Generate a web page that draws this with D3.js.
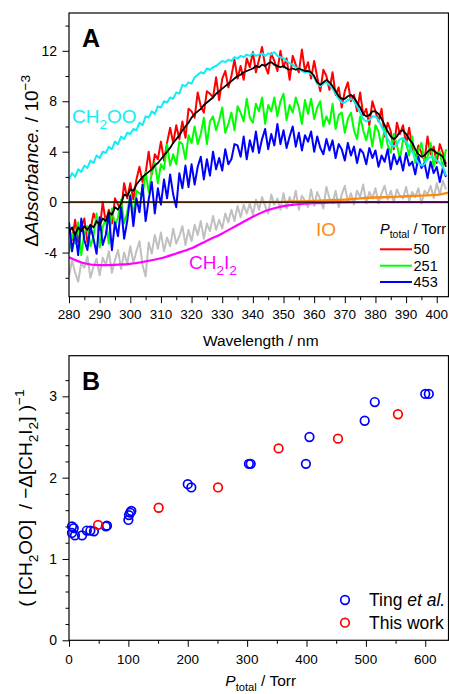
<!DOCTYPE html>
<html>
<head>
<meta charset="utf-8">
<script src="https://cdn.jsdelivr.net/npm/d3@7"></script>
<style>
  html, body { margin: 0; padding: 0; background: #fff; }
  svg { display: block; font-family: "Liberation Sans", Arial, sans-serif; }
  text { white-space: pre; }
</style>
</head>
<body>
<svg id="chart" width="449" height="694"></svg>
<script>
// ---------- Panel A: transient spectra (ΔAbsorbance / 1e-3), 1 nm grid from 280 nm ----------
const wlStart = 280;

// P_total = 50 Torr
const red50 = [
  -2.0, -3.0, -1.4, -3.2, -2.0, -1.3, -3.2, -2.2, -0.9, -1.5,
  -2.2, 0.0, -1.6, -0.6, -1.7, 0.3, -0.2, -0.7, 1.5, 0.3,
  1.5, 0.2, 1.8, 2.8, 1.6, 2.3, 4.0, 2.2, 3.8, 3.4,
  4.8, 3.3, 4.7, 5.9, 4.7, 6.1, 5.0, 6.4, 5.1, 7.4,
  7.2, 6.7, 8.7, 7.6, 7.1, 8.8, 8.6, 8.3, 9.9, 8.1,
  9.8, 10.4, 9.1, 10.0, 11.3, 9.8, 10.8, 9.7, 11.4, 10.7,
  11.9, 10.3, 11.3, 12.3, 10.8, 10.2, 11.8, 11.2, 10.4, 12.0,
  10.7, 11.4, 9.7, 11.6, 10.9, 10.3, 12.1, 10.4, 11.1, 9.8,
  11.2, 9.9, 8.8, 10.5, 10.0, 8.9, 10.3, 8.5, 9.1, 7.5,
  8.8, 9.5, 8.0, 8.5, 7.2, 8.7, 6.9, 7.4, 6.1, 8.0,
  7.2, 6.4, 7.4, 5.2, 6.3, 5.6, 4.2, 6.3, 5.4, 6.1,
  4.6, 5.9, 4.3, 3.4, 4.5, 3.9, 3.3, 5.2, 3.8, 4.4,
  3.1, 4.6, 3.9, 3.0
];

// P_total = 251 Torr
const green251 = [
  -4.0, -2.5, -3.3, -1.6, -4.2, -2.5, -1.9, -3.5, -2.7, -0.9,
  -3.6, -2.0, -1.3, -3.3, -0.5, -1.9, -1.2, 0.2, -1.7, -0.8,
  0.6, -1.1, 0.9, 0.7, 0.5, 2.4, 0.8, 2.3, 3.1, 1.5,
  3.0, 2.6, 4.6, 2.9, 3.8, 3.0, 4.8, 4.6, 3.4, 5.3,
  4.7, 6.0, 4.6, 5.4, 6.7, 4.6, 6.4, 6.8, 5.7, 6.5,
  7.5, 5.5, 6.2, 7.1, 5.7, 7.6, 7.1, 6.4, 8.2, 6.7,
  6.3, 7.8, 7.2, 8.3, 6.2, 7.7, 7.2, 8.3, 6.8, 8.0,
  8.6, 6.5, 7.7, 7.1, 8.3, 7.5, 6.2, 8.1, 7.0, 8.2,
  6.6, 7.5, 8.0, 6.0, 6.8, 6.2, 7.8, 5.8, 6.9, 7.1,
  5.5, 6.6, 7.1, 5.7, 5.0, 6.8, 5.7, 4.9, 6.0, 4.4,
  6.1, 5.6, 4.3, 5.9, 4.5, 3.9, 5.4, 4.5, 3.4, 5.0,
  4.7, 3.7, 5.2, 3.1, 4.1, 4.7, 3.2, 3.6, 4.7, 2.8,
  3.8, 4.0, 2.7, 4.2
];

// P_total = 453 Torr
const blue453 = [
  -1.6, -3.9, -2.4, -4.2, -1.3, -3.0, -3.8, -1.9, -2.9, -4.1,
  -1.2, -3.4, -2.6, -0.9, -3.8, -1.6, -2.7, -0.4, -2.9, -1.5,
  0.5, -1.9, 0.3, -0.8, 1.4, -1.5, 0.2, 1.6, -0.9, 1.1,
  -0.2, 1.8, 0.3, 2.2, 0.6, -0.4, 2.3, 1.1, 2.9, 1.2,
  3.0, 1.4, 2.8, 3.6, 1.8, 3.4, 2.1, 4.0, 2.6, 3.5,
  2.5, 4.2, 3.0, 3.4, 4.6, 4.5, 3.6, 5.2, 3.4, 4.9,
  4.0, 5.6, 3.9, 5.0, 5.8, 4.2, 5.4, 4.5, 6.2, 4.6,
  5.7, 4.3, 5.2, 6.0, 4.4, 5.5, 4.1, 5.3, 4.8, 5.6,
  4.0, 5.2, 4.3, 3.8, 5.0, 4.1, 4.9, 3.5, 4.6, 4.2,
  3.3, 4.7, 3.7, 4.4, 3.1, 4.2, 3.9, 3.0, 4.3, 3.5,
  4.1, 2.8, 3.7, 3.2, 4.2, 2.6, 3.8, 3.0, 3.6, 2.5,
  3.9, 2.9, 3.2, 2.2, 3.6, 2.7, 3.1, 1.9, 3.2, 2.3,
  2.8, 1.6, 2.7, 2.0
];

// residual after subtraction (grey trace)
const greyResid = [
  -5.9, -4.6, -5.6, -6.3, -4.8, -5.2, -4.3, -6.0, -5.1, -4.5,
  -5.8, -4.4, -5.0, -3.9, -5.6, -4.6, -3.8, -5.3, -4.0, -4.9,
  -3.5, -4.8, -3.9, -3.1, -5.0, -5.9, -3.2, -4.1, -2.6, -3.7,
  -2.4, -3.9, -2.8, -3.5, -2.1, -3.3, -2.7, -1.9, -3.4, -2.2,
  -3.1, -1.8, -2.6, -1.5, -2.9, -1.7, -2.3, -1.1, -2.2, -1.4,
  -2.1, -0.9, -1.6, -0.6, -1.5, -0.3, -1.2, -0.2, -0.9, -0.1,
  -1.0, 0.2, -0.6, 0.4, -0.3, -0.9, 0.6, -0.2, 0.3, -0.6,
  0.7, -0.5, 0.4, -0.2, 0.9, -0.6, 0.5, 0.1, -0.4, 1.0,
  -0.3, 0.8, 0.2, -0.5, 1.2, 0.3, -0.1, 0.9, -0.4, 0.6,
  1.3, 0.0, 0.7, -0.2, 0.9, 0.4, 1.4, -0.1, 0.8, 0.3,
  1.1, -0.1, 0.7, 1.3, 0.2, 0.9, 0.0, 1.0, 0.5, 0.3,
  1.2, 0.1, 0.8, 0.4, 1.1, -0.1, 0.9, 0.6, 1.3, 0.3,
  1.5, 0.6, 1.7, 1.0
];

// smoothed 50 Torr trace
const blackSmooth = [
  -2.4, -2.0, -2.6, -2.0, -2.3, -1.9, -2.2, -1.8, -2.0, -1.5,
  -1.8, -1.3, -1.5, -0.8, -1.0, -0.4, -0.6, -0.1, 0.6, 0.5,
  1.0, 0.9, 1.4, 1.7, 2.0, 2.2, 2.4, 2.6, 2.9, 3.1,
  3.4, 3.7, 4.0, 4.3, 4.7, 5.0, 5.3, 5.7, 6.0, 6.3,
  6.7, 7.0, 7.2, 7.4, 7.7, 7.9, 8.1, 8.3, 8.6, 8.8,
  9.0, 9.2, 9.4, 9.6, 9.8, 10.0, 10.1, 10.3, 10.4, 10.5,
  10.6, 10.8, 10.7, 10.9, 10.8, 11.0, 11.1, 10.9, 10.8, 10.7,
  10.8, 10.6, 10.5, 10.6, 10.5, 10.6, 10.5, 10.4, 10.4, 10.3,
  10.0, 9.5, 9.3, 9.5, 9.7, 9.5, 9.2, 8.8, 8.4, 8.2,
  8.2, 8.4, 8.5, 8.3, 7.9, 7.5, 7.0, 6.8, 6.9, 7.2,
  7.2, 7.0, 6.6, 6.1, 5.6, 5.2, 5.0, 5.2, 5.6, 5.7,
  5.4, 5.0, 4.7, 4.2, 3.8, 3.6, 3.7, 4.0, 4.2, 4.1,
  3.9, 3.8, 3.6, 2.8
];

// CH2OO reference spectrum
const cyanRef = [
  1.8, 2.3, 2.0, 2.6, 2.4, 2.9, 2.7, 3.3, 3.1, 3.7,
  3.5, 4.0, 3.9, 4.4, 4.2, 4.8, 4.6, 5.2, 5.0, 5.5,
  5.4, 5.8, 5.7, 6.3, 6.1, 6.8, 6.7, 7.2, 7.0, 7.6,
  7.5, 8.0, 7.9, 8.3, 8.2, 8.7, 8.6, 9.3, 9.2, 9.5,
  9.4, 9.9, 10.1, 10.3, 10.2, 10.6, 10.5, 10.7, 10.8, 11.0,
  11.2, 11.1, 11.3, 11.2, 11.5, 11.4, 11.6, 11.5, 11.7, 11.6,
  11.8, 11.6, 11.7, 11.8, 11.6, 11.8, 11.7, 11.9, 11.6, 11.5,
  11.4, 11.2, 11.0, 10.9, 10.7, 10.6, 10.4, 10.3, 10.3, 10.2,
  9.9, 9.4, 9.2, 9.4, 9.5, 9.3, 9.0, 8.6, 8.2, 7.9,
  7.9, 8.1, 8.2, 8.0, 7.6, 7.1, 6.6, 6.4, 6.5, 6.8,
  6.8, 6.5, 6.0, 5.5, 5.0, 4.6, 4.4, 4.6, 5.0, 5.1,
  4.8, 4.4, 4.0, 3.5, 3.1, 2.9, 3.0, 3.4, 3.6, 3.5,
  3.3, 3.1, 2.8, 2.1
];

// CH2I2 depletion and IO contribution, 5 nm grid
const wl5 = [280, 285, 290, 295, 300, 305, 310, 315, 320, 325, 330, 335, 340,
             345, 350, 355, 360, 365, 370, 375, 380, 385, 390, 395, 400, 404];
const ch2i2 = [-4.37, -4.85, -5.0, -4.97, -4.9, -4.7, -4.45, -4.07, -3.66, -3.06, -2.48, -1.82, -1.16,
               -0.63, -0.32, -0.16, -0.08, -0.04, -0.02, -0.01, 0, 0, 0, 0, 0, 0];
const ioRef = [0, 0, 0, 0, 0, 0, 0, 0, 0, 0, 0, 0, 0,
               0.0, 0.02, 0.06, 0.1, 0.15, 0.2, 0.3, 0.37, 0.4, 0.47, 0.52, 0.58, 0.76];

const pressureLegend = ["50", "251", "453"];
const xTicksA = [280, 290, 300, 310, 320, 330, 340, 350, 360, 370, 380, 390, 400];
const yTicksA = [-4, 0, 4, 8, 12];

// ---------- Panel B: ([CH2OO] / -Δ[CH2I2])^-1 vs total pressure ----------
const tingP = [5, 8, 5, 10, 22, 30, 36, 42, 62, 64, 100, 101, 103, 105,
               200, 206, 303, 306, 399, 405, 498, 515, 600, 606];
const tingV = [1.40, 1.38, 1.32, 1.29, 1.29, 1.35, 1.35, 1.34, 1.40, 1.41, 1.48, 1.54, 1.57, 1.59,
               1.92, 1.88, 2.17, 2.17, 2.17, 2.50, 2.70, 2.93, 3.03, 3.03];
const workP = [49, 151, 251, 353, 453, 554];
const workV = [1.42, 1.63, 1.88, 2.36, 2.48, 2.78];
const xTicksB = [0, 100, 200, 300, 400, 500, 600];
const yTicksB = [0, 1, 2, 3];

const COL = {
  red: "#ff0000", green: "#00ff00", blue: "#0000ff", grey: "#c0c0c0",
  cyan: "#14ecf4", magenta: "#ff00ff", orange: "#ff8a10", black: "#000"
};

const svg = d3.select("#chart");

// rich text helper: segments with optional italic / subscript / superscript
function rich(sel, segs, size) {
  let cur = 0;
  segs.forEach(s => {
    const shift = s.sub ? size * 0.3 : s.sup ? -size * 0.42 : 0;
    const ts = sel.append("tspan").text(s.t).attr("dy", shift - cur);
    cur = shift;
    if (s.sub || s.sup) ts.attr("font-size", size * 0.72);
    if (s.it) ts.attr("font-style", "italic");
  });
  return sel;
}

function frame(g, x0, x1, y0, y1) {
  g.append("rect").attr("x", x0).attr("y", y0)
    .attr("width", x1 - x0).attr("height", y1 - y0)
    .attr("fill", "none").attr("stroke", "#000").attr("stroke-width", 1.2);
}

// ================= Panel A =================
const A = { left: 69, right: 448.5, top: 13, bottom: 296.7 };
const xA = d3.scaleLinear().domain([280, 404]).range([A.left, A.right + 0.5]);
const yA = d3.scaleLinear().domain([-7.5, 15]).range([A.bottom, A.top]);

const gA = svg.append("g");
gA.append("clipPath").attr("id", "clipA").append("rect")
  .attr("x", A.left).attr("y", A.top).attr("width", A.right - A.left).attr("height", A.bottom - A.top);
const plotA = gA.append("g").attr("clip-path", "url(#clipA)");

const lineGrid = d3.line().x((d, i) => xA(wlStart + i)).y(d => yA(d));
const line5 = d3.line().x((d, i) => xA(wl5[i])).y(d => yA(d)).curve(d3.curveMonotoneX);

function trace(data, gen, color, w) {
  plotA.append("path").datum(data).attr("d", gen)
    .attr("fill", "none").attr("stroke", color).attr("stroke-width", w)
    .attr("stroke-linejoin", "round");
}

trace(greyResid, lineGrid, COL.grey, 2);
trace(ch2i2, line5, COL.magenta, 2.2);
trace(ioRef, line5, COL.orange, 2.4);
trace(red50, lineGrid, COL.red, 2);
trace(green251, lineGrid, COL.green, 2);
trace(blue453, lineGrid, COL.blue, 2);
plotA.append("line").attr("x1", A.left).attr("x2", A.right).attr("y1", yA(0)).attr("y2", yA(0))
  .attr("stroke", "#000").attr("stroke-width", 1.1);
trace(cyanRef, lineGrid, COL.cyan, 2);
trace(blackSmooth, lineGrid, COL.black, 1.8);

// axes A
const axAx = gA.append("g").attr("transform", `translate(0,${A.bottom})`)
  .call(d3.axisBottom(xA).tickValues(d3.range(280, 404, 5)).tickSize(0).tickFormat(""));
axAx.select(".domain").remove();
axAx.selectAll(".tick line").attr("y2", d => (d % 10 === 0 ? 6.5 : 3.5)).attr("stroke", "#000");
gA.append("g").selectAll("text").data(xTicksA).join("text")
  .attr("x", d => xA(d)).attr("y", A.bottom + 22.5).attr("text-anchor", "middle")
  .attr("font-size", 13.5).text(d => d);

const axAy = gA.append("g").attr("transform", `translate(${A.left},0)`)
  .call(d3.axisLeft(yA).tickValues(d3.range(-6, 15, 2)).tickSize(0).tickFormat(""));
axAy.select(".domain").remove();
axAy.selectAll(".tick line").attr("x2", d => (d % 4 === 0 ? -6.5 : -3.5)).attr("stroke", "#000");
gA.append("g").selectAll("text").data(yTicksA).join("text")
  .attr("x", A.left - 12).attr("y", d => yA(d) + 5).attr("text-anchor", "end")
  .attr("font-size", 14).text(d => String(d));

frame(gA, A.left, A.right, A.top, A.bottom);

// titles A
rich(gA.append("text").attr("x", (A.left + A.right) / 2 + 2).attr("y", 346)
  .attr("text-anchor", "middle").attr("font-size", 15.5), [{ t: "Wavelength / nm" }], 15.5);
rich(gA.append("text").attr("transform", `translate(38,${(A.top + A.bottom) / 2 + 6}) rotate(-90)`)
  .attr("text-anchor", "middle").attr("font-size", 19),
  [{ t: "Δ" }, { t: "Absorbance.", it: true }, { t: " / 10" }, { t: "−3", sup: true }], 19);
gA.append("text").attr("x", 82).attr("y", 47).attr("font-size", 25).attr("font-weight", "bold").text("A");

// in-plot labels
rich(gA.append("text").attr("x", 72).attr("y", 123).attr("font-size", 19).attr("fill", COL.cyan),
  [{ t: "CH" }, { t: "2", sub: true }, { t: "OO" }], 19);
rich(gA.append("text").attr("x", 189).attr("y", 269).attr("font-size", 19).attr("fill", COL.magenta),
  [{ t: "CH" }, { t: "2", sub: true }, { t: "I" }, { t: "2", sub: true }], 19);
gA.append("text").attr("x", 316).attr("y", 235.5).attr("font-size", 19).attr("fill", COL.orange).text("IO");

// pressure legend
rich(gA.append("text").attr("x", 380).attr("y", 234).attr("font-size", 14.5),
  [{ t: "P", it: true }, { t: "total", sub: true }, { t: " / Torr" }], 14.5);
const legColors = [COL.red, COL.green, COL.blue];
const legY = [249.3, 265.7, 282];
pressureLegend.forEach((lab, i) => {
  gA.append("line").attr("x1", 380).attr("x2", 412).attr("y1", legY[i]).attr("y2", legY[i])
    .attr("stroke", legColors[i]).attr("stroke-width", 2);
  gA.append("text").attr("x", 413.5).attr("y", legY[i] + 5).attr("font-size", 14.5).text(lab);
});

// ================= Panel B =================
const B = { left: 69, right: 448.5, top: 355.7, bottom: 640.3 };
const xB = d3.scaleLinear().domain([0, 640]).range([B.left, B.right + 0.5]);
const yB = d3.scaleLinear().domain([0, 3.5]).range([B.bottom, B.top]);
const gB = svg.append("g");

const axBx = gB.append("g").attr("transform", `translate(0,${B.bottom})`)
  .call(d3.axisBottom(xB).tickValues(d3.range(0, 641, 50)).tickSize(0).tickFormat(""));
axBx.select(".domain").remove();
axBx.selectAll(".tick line").attr("y2", d => (d % 100 === 0 ? 6.5 : 3.5)).attr("stroke", "#000");
gB.append("g").selectAll("text").data(xTicksB).join("text")
  .attr("x", d => xB(d)).attr("y", B.bottom + 23.5).attr("text-anchor", "middle")
  .attr("font-size", 13.5).text(d => d);

const axBy = gB.append("g").attr("transform", `translate(${B.left},0)`)
  .call(d3.axisLeft(yB).tickValues(d3.range(0, 17).map(k => k * 0.2).filter(v => v <= 3.41)).tickSize(0).tickFormat(""));
axBy.select(".domain").remove();
axBy.selectAll(".tick line").attr("x2", d => (Math.abs(d - Math.round(d)) < 1e-6 ? -6.5 : -3.5)).attr("stroke", "#000");
gB.append("g").selectAll("text").data(yTicksB).join("text")
  .attr("x", B.left - 12).attr("y", d => yB(d) + 5).attr("text-anchor", "end")
  .attr("font-size", 14).text(d => d);

frame(gB, B.left, B.right, B.top, B.bottom);

gB.append("g").selectAll("circle").data(tingP).join("circle")
  .attr("cx", d => xB(d)).attr("cy", (d, i) => yB(tingV[i])).attr("r", 4.3)
  .attr("fill", "none").attr("stroke", COL.blue).attr("stroke-width", 1.7);
gB.append("g").selectAll("circle").data(workP).join("circle")
  .attr("cx", d => xB(d)).attr("cy", (d, i) => yB(workV[i])).attr("r", 4.3)
  .attr("fill", "none").attr("stroke", COL.red).attr("stroke-width", 1.7);

gB.append("text").attr("x", 82).attr("y", 390).attr("font-size", 25).attr("font-weight", "bold").text("B");

// legend B
const legB = [{ c: COL.blue, segs: [{ t: "Ting " }, { t: "et al.", it: true }] },
              { c: COL.red, segs: [{ t: "This work" }] }];
legB.forEach((d, i) => {
  const y = 600 + i * 22.7;
  gB.append("circle").attr("cx", 345).attr("cy", y).attr("r", 4.3)
    .attr("fill", "none").attr("stroke", d.c).attr("stroke-width", 1.7);
  rich(gB.append("text").attr("x", 369).attr("y", y + 6).attr("font-size", 17.5), d.segs, 17.5);
});

// titles B
rich(gB.append("text").attr("x", (B.left + B.right) / 2 + 2).attr("y", 686)
  .attr("text-anchor", "middle").attr("font-size", 15.5),
  [{ t: "P", it: true }, { t: "total", sub: true }, { t: " / Torr" }], 15.5);
rich(gB.append("text").attr("transform", `translate(32,${(B.top + B.bottom) / 2}) rotate(-90)`)
  .attr("text-anchor", "middle").attr("font-size", 19),
  [{ t: "( [CH" }, { t: "2", sub: true }, { t: "OO]  / −Δ[CH" }, { t: "2", sub: true }, { t: "I" },
   { t: "2", sub: true }, { t: "] )" }, { t: "−1", sup: true }], 19);
</script>
</body>
</html>
